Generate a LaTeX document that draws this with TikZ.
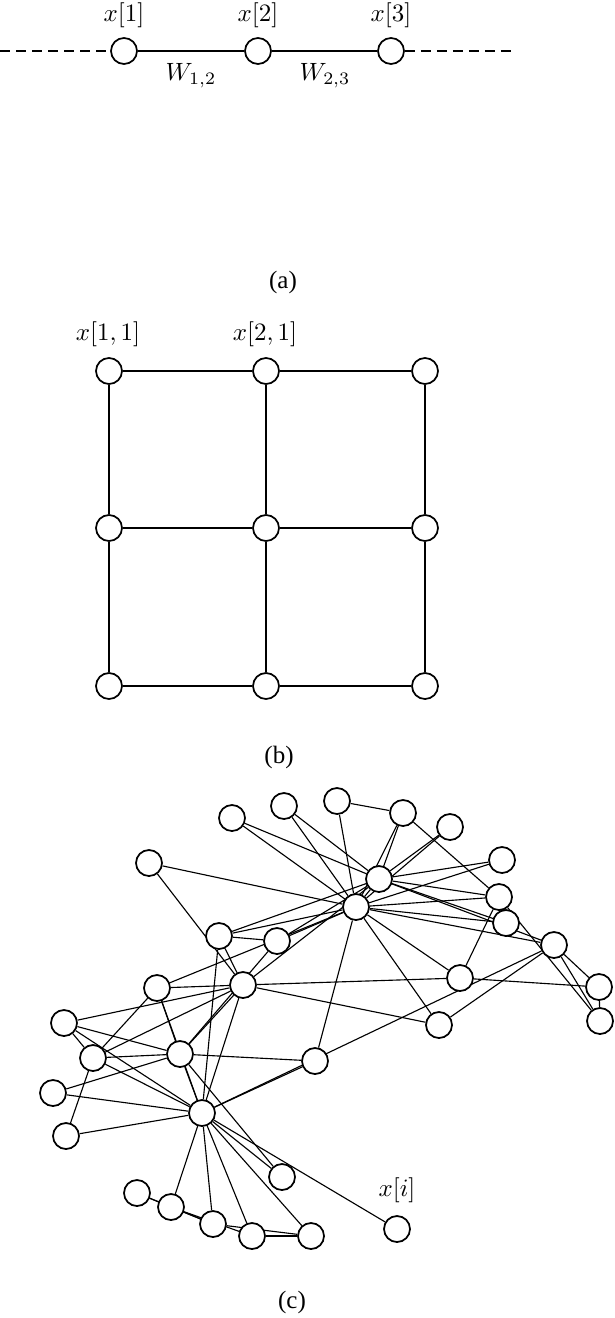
\documentclass[tikz,border=0pt]{standalone}
\usepackage{fontspec}
\newfontfamily\capfont{Liberation Serif}
\pgfdeclarelayer{bg}
\pgfsetlayers{bg,main}
\begin{document}
\begin{tikzpicture}[x=0.4pt,y=-0.4pt,
  vtx/.style={circle,draw,fill=white,line width=0.7pt,minimum size=10.4pt,inner sep=0pt},
  lnk/.style={line width=0.45pt},
  dashlnk/.style={line width=0.45pt,dash pattern=on 4pt off 2.4pt},
  lbl/.style={inner sep=0pt},
  captxt/.style={font=\capfont,inner sep=0pt}]
\useasboundingbox (0,0) rectangle (614,1318);

% ---------- (a) chain ----------
\node[vtx] (a1) at (124,51) {};
\node[vtx] (a2) at (258,51) {};
\node[vtx] (a3) at (391,51) {};
\coordinate (aL) at (0,51);
\coordinate (aR) at (514,51);
\node[lbl] (la1) at (124,15) {$x[1]$};
\node[lbl] (la2) at (258,15) {$x[2]$};
\node[lbl] (la3) at (391,15) {$x[3]$};
\node[lbl] (w12) at (191,76) {$W_{1,2}$};
\node[lbl] (w23) at (325,76) {$W_{2,3}$};
\begin{pgfonlayer}{bg}
\draw[dashlnk] (aL) -- (a1);
\draw[dashlnk] (a3) -- (aR);
\draw[lnk] (a1) -- (a2) -- (a3);
\end{pgfonlayer}
\node[captxt] (capa) at (283,282) {(a)};

% ---------- (b) grid ----------
\foreach \i/\x in {1/109,2/266,3/425}{
  \foreach \j/\y in {1/371,2/528,3/686}{
    \node[vtx] (g\i\j) at (\x,\y) {};
  }
}
\node[lbl] (lg11) at (108,334) {$x[1,1]$};
\node[lbl] (lg21) at (265,334) {$x[2,1]$};
\begin{pgfonlayer}{bg}
\foreach \j in {1,2,3}{
  \draw[lnk] (g1\j) -- (g2\j) -- (g3\j);
  \draw[lnk] (g\j1) -- (g\j2) -- (g\j3);
}
\end{pgfonlayer}
\node[captxt] (capb) at (279,757) {(b)};

% ---------- (c) graph ----------
\foreach \n/\x/\y in {
  1/202/1113, 2/180/1054, 3/243/985, 4/93/1058, 5/311/1236,
  6/171/1207, 7/213/1224, 8/64/1023, 9/219/936, 10/149/863,
  11/252/1236, 12/397/1229, 13/66/1136, 14/157/988, 15/232/818,
  16/284/806, 17/137/1193, 18/53/1093, 19/450/827, 20/315/1061,
  21/502/860, 22/282/1177, 23/506/923, 24/499/897, 25/599/987,
  26/600/1021, 27/337/801, 28/460/978, 29/439/1025, 30/403/813,
  31/277/941, 32/554/945, 33/379/879, 34/356/907}{
  \node[vtx] (k\n) at (\x,\y) {};
}
\node[lbl] (lk12) at (397,1190) {$x[i]$};
\begin{pgfonlayer}{bg}
\foreach \a/\b in {
  1/2,1/3,1/4,1/5,1/6,1/7,1/8,1/9,1/11,1/12,1/13,1/14,1/18,1/20,1/22,1/32,
  2/3,2/4,2/8,2/14,2/18,2/20,2/22,2/31,
  3/4,3/8,3/9,3/10,3/14,3/28,3/29,3/33,
  4/8,4/13,4/14,
  5/7,5/11,
  6/7,6/11,6/17,
  7/17,
  9/31,9/33,9/34,
  10/34,
  14/34,
  15/33,15/34,
  16/33,16/34,
  19/33,19/34,
  20/34,
  21/33,21/34,
  23/33,23/34,
  24/26,24/28,24/30,24/33,24/34,
  25/26,25/28,25/32,
  26/32,
  27/30,27/34,
  28/34,
  29/32,29/34,
  30/33,30/34,
  31/33,31/34,
  32/33,32/34,
  33/34}{
  \draw[lnk] (k\a) -- (k\b);
}
\end{pgfonlayer}
\node[captxt] (capc) at (292,1302) {(c)};
\end{tikzpicture}
\end{document}
